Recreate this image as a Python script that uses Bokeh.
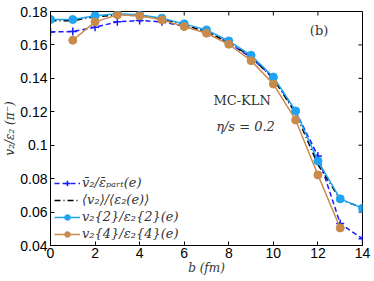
from bokeh.plotting import figure
from bokeh.models import Legend, LegendItem, Label, Range1d, FixedTicker
from bokeh.embed import file_html
from bokeh.resources import INLINE

b = [0, 1, 2, 3, 4, 5, 6, 7, 8, 9, 10, 11, 12, 13, 14]
b4 = [1, 2, 3, 4, 5, 6, 7, 8, 9, 10, 11, 12, 13]

v_part = [0.1678, 0.168, 0.1706, 0.1738, 0.1746, 0.1738, 0.1712, 0.1682, 0.1612, 0.1525, 0.1402, 0.1202, 0.0936, 0.0531, 0.0441]
v_mean = [0.1745, 0.1745, 0.1768, 0.1780, 0.1775, 0.1755, 0.1720, 0.1680, 0.1615, 0.1530, 0.1398, 0.1190, 0.0885, 0.0675, 0.0625]
v2_2 = [0.1752, 0.1752, 0.1774, 0.1786, 0.1780, 0.1760, 0.1726, 0.1690, 0.1624, 0.1538, 0.1408, 0.1205, 0.0906, 0.0679, 0.0623]
v2_4 = [0.1628, 0.1738, 0.1780, 0.1774, 0.1750, 0.1710, 0.1670, 0.1604, 0.1506, 0.1366, 0.1151, 0.0822, 0.0505]

labels = ["v̄₂/ε̄ₚₐᵣₜ(e)", "⟨v₂⟩/⟨ε₂(e)⟩", "v₂{2}/ε₂{2}(e)", "v₂{4}/ε₂{4}(e)"]
xticks = [0, 2, 4, 6, 8, 10, 12, 14]
yticks = [0.04, 0.06, 0.08, 0.1, 0.12, 0.14, 0.16, 0.18]
x_title = "b (fm)"
y_title = "v₂/ε₂ (π⁻)"

C_PART = "#1a1aff"
C_MEAN = "#000000"
C_V22 = "#1ea4f2"
C_V24 = "#c98a4a"

XMIN, XMAX, YMIN, YMAX = 0, 14, 0.04, 0.18

p = figure(width=374, height=281, output_backend="svg", toolbar_location=None,
           x_range=Range1d(XMIN, XMAX), y_range=Range1d(YMIN, YMAX))
p.min_border_left = 50
p.min_border_right = 12
p.min_border_top = 11
p.min_border_bottom = 36
p.xgrid.visible = False
p.ygrid.visible = False
p.outline_line_color = "black"
p.outline_line_width = 1

for ax in (p.xaxis[0], p.yaxis[0]):
    ax.major_tick_in = 4
    ax.major_tick_out = 0
    ax.minor_tick_in = 0
    ax.minor_tick_out = 0
    ax.major_label_text_font = "Liberation Sans"
    ax.major_label_text_font_size = "14px"
    ax.major_label_text_color = "black"
    ax.axis_line_color = "black"
    ax.axis_label_text_font = "DejaVu Serif"
    ax.axis_label_text_font_style = "italic"
    ax.axis_label_text_font_size = "12px"
    ax.axis_label_text_color = "#333333"

p.xaxis[0].ticker = FixedTicker(ticks=xticks)
p.yaxis[0].ticker = FixedTicker(ticks=yticks)
p.xaxis[0].major_label_standoff = 2
p.yaxis[0].major_label_standoff = 3
p.xaxis[0].axis_label = x_title
p.xaxis[0].axis_label_standoff = 0
p.yaxis[0].axis_label = y_title
p.yaxis[0].axis_label_standoff = 0

# mirrored ticks on top and right edges of the frame
tx = 4 * (XMAX - XMIN) / 312.0
ty = 4 * (YMAX - YMIN) / 234.0
p.segment(x0=xticks, y0=[YMAX] * len(xticks), x1=xticks, y1=[YMAX - ty] * len(xticks),
          line_color="black", line_width=1)
p.segment(x0=[XMAX] * len(yticks), y0=yticks, x1=[XMAX - tx] * len(yticks), y1=yticks,
          line_color="black", line_width=1)

r_part_l = p.line(b, v_part, line_color=C_PART, line_width=1.5, line_dash="5 3")
r_part_m = p.scatter(b, v_part, marker="cross", size=8, line_color=C_PART, line_width=1.5)
r_mean = p.line(b, v_mean, line_color=C_MEAN, line_width=1.5, line_dash="6 3 1 3")
r_22l = p.line(b, v2_2, line_color=C_V22, line_width=1.5)
r_22m = p.scatter(b, v2_2, marker="circle", size=8, fill_color=C_V22, line_color=C_V22)
r_24l = p.line(b4, v2_4, line_color=C_V24, line_width=1.5)
r_24m = p.scatter(b4, v2_4, marker="circle", size=8, fill_color=C_V24, line_color=C_V24)

legend = Legend(items=[
    LegendItem(label=labels[0], renderers=[r_part_l, r_part_m]),
    LegendItem(label=labels[1], renderers=[r_mean]),
    LegendItem(label=labels[2], renderers=[r_22l, r_22m]),
    LegendItem(label=labels[3], renderers=[r_24l, r_24m]),
], location=(2, 2))
legend.border_line_alpha = 0
legend.background_fill_alpha = 0
legend.label_text_font = "DejaVu Serif"
legend.label_text_font_style = "italic"
legend.label_text_font_size = "13px"
legend.label_text_color = "#333333"
legend.label_height = 14
legend.glyph_height = 14
legend.glyph_width = 26
legend.label_standoff = 2
legend.spacing = 2
legend.padding = 2
legend.margin = 0
p.add_layout(legend)

p.add_layout(Label(x=8.6, y=0.1266, text="MC-KLN", text_font="DejaVu Serif",
                   text_font_size="13px", text_color="#333333", text_align="center", text_baseline="middle"))
p.add_layout(Label(x=8.75, y=0.111, text="η/s = 0.2", text_font="DejaVu Serif", text_font_style="italic",
                   text_font_size="13px", text_color="#333333", text_align="center", text_baseline="middle"))
p.add_layout(Label(x=12.05, y=0.1685, text="(b)", text_font="DejaVu Serif",
                   text_font_size="13px", text_color="#333333", text_align="center", text_baseline="middle"))

open("out.html", "w").write(file_html(p, INLINE))
